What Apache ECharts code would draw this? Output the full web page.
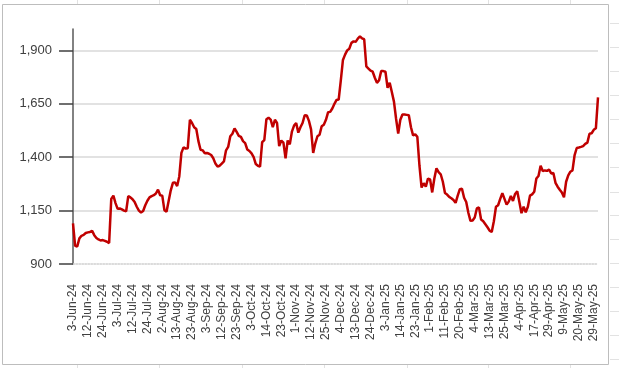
<!DOCTYPE html>
<html><head><meta charset="utf-8">
<script src="https://cdn.jsdelivr.net/npm/echarts@6/dist/echarts.min.js"></script>
<style>html,body{margin:0;padding:0;background:#fff}#c{width:619px;height:368px}</style>
</head><body><div id="c"></div>
<script>
const dates = [
"3-Jun-24","4-Jun-24","5-Jun-24","6-Jun-24","7-Jun-24","10-Jun-24","11-Jun-24","12-Jun-24","13-Jun-24","14-Jun-24","18-Jun-24","19-Jun-24","20-Jun-24","21-Jun-24","24-Jun-24","25-Jun-24","26-Jun-24","27-Jun-24","28-Jun-24",
"1-Jul-24","2-Jul-24","3-Jul-24","4-Jul-24","5-Jul-24","8-Jul-24","9-Jul-24","10-Jul-24","11-Jul-24","12-Jul-24","15-Jul-24","16-Jul-24","18-Jul-24","19-Jul-24","22-Jul-24","23-Jul-24","24-Jul-24","25-Jul-24","26-Jul-24","29-Jul-24","30-Jul-24","31-Jul-24",
"1-Aug-24","2-Aug-24","5-Aug-24","6-Aug-24","7-Aug-24","8-Aug-24","9-Aug-24","12-Aug-24","13-Aug-24","14-Aug-24","16-Aug-24","19-Aug-24","20-Aug-24","21-Aug-24","22-Aug-24","23-Aug-24","26-Aug-24","27-Aug-24","28-Aug-24","29-Aug-24","30-Aug-24",
"2-Sep-24","3-Sep-24","4-Sep-24","5-Sep-24","6-Sep-24","9-Sep-24","10-Sep-24","11-Sep-24","12-Sep-24","13-Sep-24","16-Sep-24","17-Sep-24","18-Sep-24","19-Sep-24","20-Sep-24","23-Sep-24","24-Sep-24","25-Sep-24","26-Sep-24","27-Sep-24","30-Sep-24",
"1-Oct-24","3-Oct-24","4-Oct-24","7-Oct-24","8-Oct-24","9-Oct-24","10-Oct-24","11-Oct-24","14-Oct-24","15-Oct-24","16-Oct-24","17-Oct-24","18-Oct-24","21-Oct-24","22-Oct-24","23-Oct-24","24-Oct-24","25-Oct-24","28-Oct-24","29-Oct-24","30-Oct-24","31-Oct-24",
"1-Nov-24","4-Nov-24","5-Nov-24","6-Nov-24","7-Nov-24","8-Nov-24","11-Nov-24","12-Nov-24","13-Nov-24","14-Nov-24","18-Nov-24","19-Nov-24","21-Nov-24","22-Nov-24","25-Nov-24","26-Nov-24","27-Nov-24","28-Nov-24","29-Nov-24",
"2-Dec-24","3-Dec-24","4-Dec-24","5-Dec-24","6-Dec-24","9-Dec-24","10-Dec-24","11-Dec-24","12-Dec-24","13-Dec-24","16-Dec-24","17-Dec-24","18-Dec-24","19-Dec-24","20-Dec-24","23-Dec-24","24-Dec-24","26-Dec-24","27-Dec-24","30-Dec-24","31-Dec-24",
"1-Jan-25","2-Jan-25","3-Jan-25","6-Jan-25","7-Jan-25","8-Jan-25","9-Jan-25","10-Jan-25","13-Jan-25","14-Jan-25","15-Jan-25","16-Jan-25","17-Jan-25","20-Jan-25","21-Jan-25","22-Jan-25","23-Jan-25","24-Jan-25","27-Jan-25","28-Jan-25","29-Jan-25","30-Jan-25","31-Jan-25",
"1-Feb-25","3-Feb-25","4-Feb-25","5-Feb-25","6-Feb-25","7-Feb-25","10-Feb-25","11-Feb-25","12-Feb-25","13-Feb-25","14-Feb-25","17-Feb-25","18-Feb-25","19-Feb-25","20-Feb-25","21-Feb-25","24-Feb-25","25-Feb-25","27-Feb-25","28-Feb-25",
"3-Mar-25","4-Mar-25","5-Mar-25","6-Mar-25","7-Mar-25","10-Mar-25","11-Mar-25","12-Mar-25","13-Mar-25","17-Mar-25","18-Mar-25","19-Mar-25","20-Mar-25","21-Mar-25","24-Mar-25","25-Mar-25","26-Mar-25","27-Mar-25","28-Mar-25",
"1-Apr-25","2-Apr-25","3-Apr-25","4-Apr-25","7-Apr-25","8-Apr-25","9-Apr-25","11-Apr-25","15-Apr-25","16-Apr-25","17-Apr-25","21-Apr-25","22-Apr-25","23-Apr-25","24-Apr-25","25-Apr-25","28-Apr-25","29-Apr-25","30-Apr-25",
"2-May-25","5-May-25","6-May-25","7-May-25","8-May-25","9-May-25","12-May-25","13-May-25","14-May-25","15-May-25","16-May-25","19-May-25","20-May-25","21-May-25","22-May-25","23-May-25","26-May-25","27-May-25","28-May-25","29-May-25","30-May-25",
"2-Jun-25"
];
const prices = [
1090,985,982,1020,1032,1036,1045,1048,1050,1055,1035,1022,1015,1010,1012,1008,1004,998,1205,1220,
1185,1158,1160,1156,1150,1147,1218,1212,1203,1190,1168,1150,1141,1148,1175,1196,1212,1218,1222,1230,
1248,1222,1220,1152,1145,1195,1245,1280,1282,1265,1310,1420,1446,1440,1442,1575,1560,1540,1532,1475,
1435,1432,1418,1420,1416,1410,1395,1370,1356,1360,1370,1380,1432,1448,1498,1510,1535,1518,1500,1495,
1475,1466,1436,1429,1418,1400,1368,1360,1356,1470,1480,1578,1585,1576,1540,1575,1560,1452,1478,1468,
1395,1478,1460,1520,1548,1560,1515,1540,1560,1596,1595,1570,1530,1420,1465,1498,1505,1545,1552,1575,
1610,1612,1628,1650,1668,1670,1760,1855,1880,1900,1908,1935,1942,1940,1955,1966,1956,1952,1825,1815,
1805,1800,1772,1748,1760,1803,1803,1800,1725,1748,1705,1660,1580,1510,1575,1600,1600,1598,1596,1540,
1502,1507,1495,1360,1258,1278,1262,1300,1296,1235,1300,1348,1330,1320,1285,1232,1225,1214,1208,1200,
1186,1220,1250,1252,1210,1190,1140,1102,1104,1118,1160,1165,1108,1100,1086,1072,1056,1050,1100,1168,
1175,1205,1232,1205,1178,1192,1218,1195,1228,1240,1190,1138,1168,1142,1168,1220,1226,1238,1300,1312,
1360,1335,1338,1336,1342,1324,1326,1280,1262,1248,1235,1212,1285,1315,1332,1338,1410,1443,1445,1448,
1452,1462,1468,1510,1512,1528,1535,1680
];
const yTicks = [900, 1150, 1400, 1650, 1900];
const yMin = 900, yMax = 2000;

const chart = echarts.init(document.getElementById('c'), null, {renderer: 'canvas'});
const FONT = 'Liberation Sans, Arial, sans-serif';
const sheetCols = [77, 159, 242, 324, 407, 488, 570];
const sheetRows = [23, 47, 71, 95, 119, 143, 167, 192, 215, 239, 263, 287, 311, 335, 359];
const bg = [];
sheetCols.forEach(x => {
  bg.push({type:'line', shape:{x1:x+0.5,y1:0,x2:x+0.5,y2:4}, style:{stroke:'#e2e2e2',lineWidth:1}, silent:true});
  bg.push({type:'line', shape:{x1:x+0.5,y1:365,x2:x+0.5,y2:368}, style:{stroke:'#e2e2e2',lineWidth:1}, silent:true});
});
sheetRows.forEach(y => {
  bg.push({type:'line', shape:{x1:610,y1:y+0.5,x2:619,y2:y+0.5}, style:{stroke:'#e2e2e2',lineWidth:1}, silent:true});
});
bg.push({type:'rect', shape:{x:2.5,y:4.5,width:606,height:360}, style:{fill:null, stroke:'#bdbdbd', lineWidth:1}, silent:true, z:-1});

chart.setOption({
  animation: false,
  backgroundColor: '#fff',
  graphic: bg,
  grid: {left: 73, right: 21, top: 29, bottom: 104, containLabel: false},
  xAxis: {
    type: 'category',
    data: dates,
    boundaryGap: false,
    axisLine: {show: true, lineStyle: {color: '#d0d0d0', width: 1.5, type: 'dotted'}},
    axisTick: {show: false},
    axisLabel: {interval: 6, rotate: 90, margin: 20, fontSize: 12, color: '#404040', fontFamily: FONT},
    splitLine: {show: false}
  },
  yAxis: {
    type: 'value',
    min: yMin, max: yMax, interval: 250,
    axisLine: {show: true, lineStyle: {color: '#595959', width: 1.5}},
    axisTick: {show: true, length: 14, customValues: yTicks, lineStyle: {color: '#404040', width: 1.5}},
    axisLabel: {customValues: yTicks, margin: 21, fontSize: 13, color: '#404040', fontFamily: FONT,
      formatter: v => v.toLocaleString('en-US')},
    splitLine: {show: true, showMinLine: false, lineStyle: {color: '#d9d9d9', width: 1.5}}
  },
  series: [{
    type: 'line',
    data: prices,
    symbol: 'none',
    lineStyle: {color: '#c00000', width: 2.5},
    z: 5
  }]
});
</script>
</body></html>
